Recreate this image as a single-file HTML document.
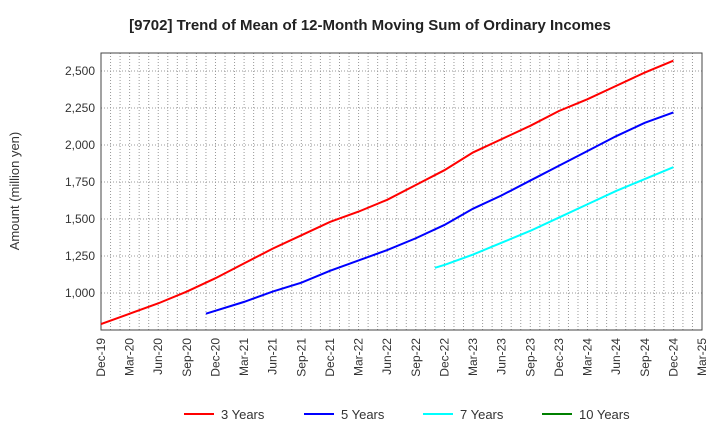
<!DOCTYPE html>
<html><head><meta charset="utf-8"><style>
body{margin:0;background:#fff;font-family:"Liberation Sans",sans-serif}
</style></head><body>
<svg id="c" width="720" height="440" xmlns="http://www.w3.org/2000/svg" font-family="Liberation Sans, sans-serif"></svg>
<script>
const xTickLabels=["Dec-19","Mar-20","Jun-20","Sep-20","Dec-20","Mar-21","Jun-21","Sep-21","Dec-21","Mar-22","Jun-22","Sep-22","Dec-22","Mar-23","Jun-23","Sep-23","Dec-23","Mar-24","Jun-24","Sep-24","Dec-24","Mar-25"];
const yTicks=[1000,1250,1500,1750,2000,2250,2500];
const months3=[0,3,6,9,12,15,18,21,24,27,30,33,36,39,42,45,48,51,54,57,60];
const values3=[790,860,930,1010,1100,1200,1300,1390,1480,1550,1630,1730,1830,1950,2040,2130,2230,2310,2400,2490,2570];
const months5=[11,15,18,21,24,27,30,33,36,39,42,45,48,51,54,57,60];
const values5=[860,940,1010,1070,1150,1220,1290,1370,1460,1570,1660,1760,1860,1960,2060,2150,2220];
const months7=[35,36,39,42,45,48,51,54,57,60];
const values7=[1170,1190,1260,1340,1420,1510,1600,1690,1770,1850];
const months10=[];const values10=[];
const L=101,R=702,T=53,B=330,vMin=750,vMax=2622,mMax=63;
const xs=m=>L+(R-L)*m/mMax, ys=v=>B-(B-T)*(v-vMin)/(vMax-vMin);
const svg=document.getElementById('c');const NS="http://www.w3.org/2000/svg";
function mk(t,a,txt){const e=document.createElementNS(NS,t);for(const k in a)e.setAttribute(k,a[k]);if(txt!=null)e.textContent=txt;svg.appendChild(e);return e;}
let e=mk('text',{x:370,y:30,'text-anchor':'middle','font-size':15,'font-weight':'bold',fill:'#222'},'[9702]  Trend of Mean of 12-Month Moving Sum of Ordinary Incomes');

for(let m=0;m<=mMax;m++){e=mk('line',{x1:xs(m),x2:xs(m),y1:T,y2:B,stroke:'#999','stroke-width':1,'stroke-dasharray':'1,2'});
}
yTicks.forEach(v=>{e=mk('line',{x1:L,x2:R,y1:ys(v),y2:ys(v),stroke:'#999','stroke-dasharray':'1,2'});

e=mk('text',{x:L-6,y:ys(v)+4,'text-anchor':'end','font-size':12,fill:'#333'},v.toLocaleString('en-US'));
});
xTickLabels.forEach((s,i)=>{const x=xs(i*3);
e=mk('text',{x:x+4,y:B+8,'text-anchor':'end','font-size':12,fill:'#333',transform:`rotate(-90 ${x+4} ${B+8})`},s);
});
e=mk('rect',{x:L,y:T,width:R-L,height:B-T,fill:'none',stroke:'#444'});

e=mk('text',{x:19,y:191,'text-anchor':'middle','font-size':13,fill:'#333',transform:'rotate(-90 19 191)'},'Amount (million yen)');

const series=[[months3,values3,'#ff0000','3 Years'],[months5,values5,'#0000ff','5 Years'],[months7,values7,'#00ffff','7 Years'],[months10,values10,'#008000','10 Years']];
series.forEach((s,i)=>{if(s[0].length){e=mk('polyline',{points:s[0].map((m,j)=>xs(m)+','+ys(s[1][j])).join(' '),fill:'none',stroke:s[2],'stroke-width':2});
}
const lx=[184,304,423,542][i];
e=mk('line',{x1:lx,x2:lx+30,y1:414,y2:414,stroke:s[2],'stroke-width':2});

e=mk('text',{x:lx+37,y:419,'font-size':13,fill:'#333'},s[3]);
});
</script></body></html>
